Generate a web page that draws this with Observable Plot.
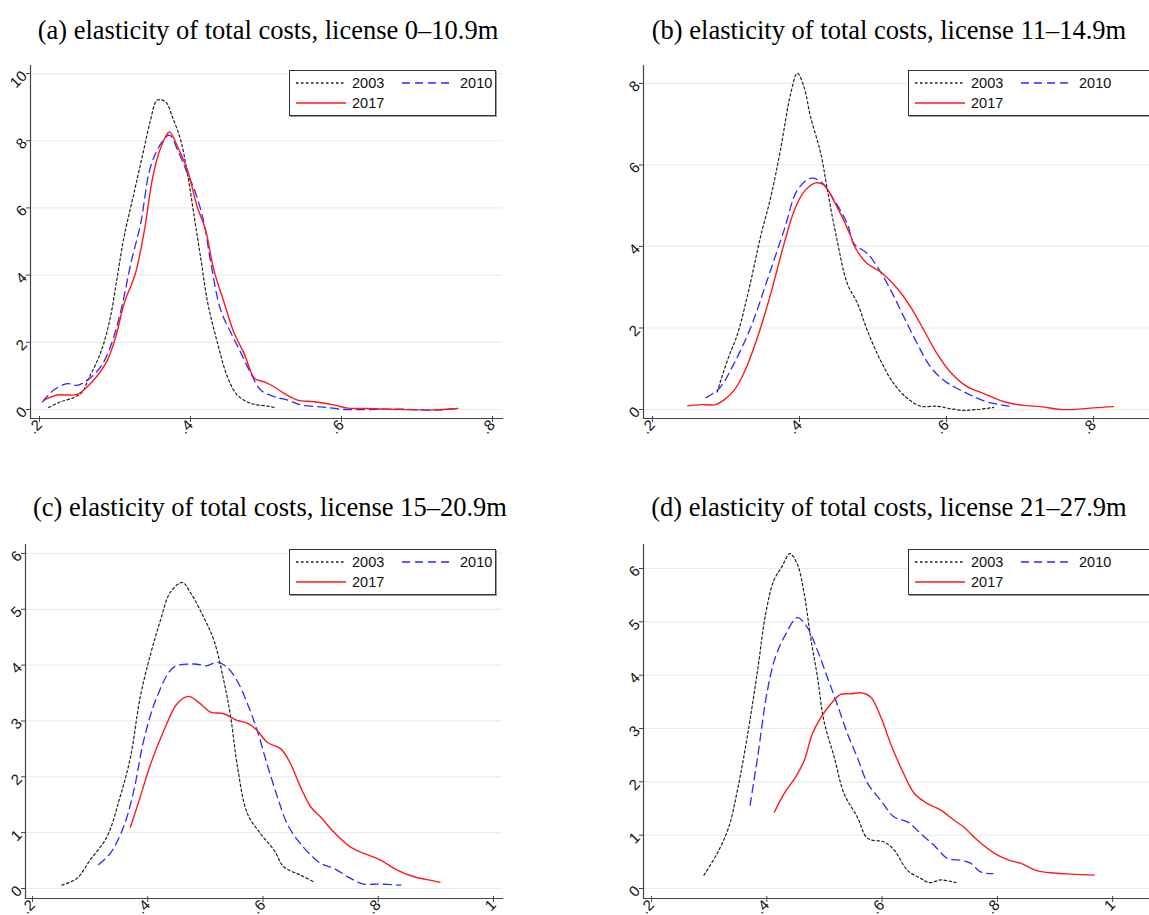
<!DOCTYPE html>
<html><head><meta charset="utf-8">
<script src="https://cdn.jsdelivr.net/npm/d3@7"></script>
<script src="https://cdn.jsdelivr.net/npm/@observablehq/plot@0.6"></script>
<style>
html,body{margin:0;padding:0;background:#fff;width:1149px;height:915px;overflow:hidden;position:relative}
.title{position:absolute;font-family:"Liberation Serif","Times New Roman",serif;font-size:26.5px;line-height:30px;color:#000;white-space:nowrap;transform:translateX(-50%)}
.panel{position:absolute}
.panel svg{max-width:none !important}
.panel svg g[aria-label*="tick label"]{font-size:15px}
.legend{position:absolute;border:1.5px solid #333;background:#fff;font-family:"Liberation Sans",Arial,sans-serif;font-size:14.5px;color:#111;box-shadow:1px 1px 0 #999}
.legend span{position:absolute;line-height:16px}
.legend svg{position:absolute}
</style></head><body>
<script>
// ---------- data ----------
const seriesNames = ["2003", "2010", "2017"];
const titles = [
  "(a) elasticity of total costs, license 0\u201310.9m",
  "(b) elasticity of total costs, license 11\u201314.9m",
  "(c) elasticity of total costs, license 15\u201320.9m",
  "(d) elasticity of total costs, license 21\u201327.9m"
];
const xTicksAB = [0.2, 0.4, 0.6, 0.8];
const xTicksCD = [0.2, 0.4, 0.6, 0.8, 1];
const yTicksA = [0, 2, 4, 6, 8, 10];
const yTicksB = [0, 2, 4, 6, 8];
const yTicksC = [0, 1, 2, 3, 4, 5, 6];
const yTicksD = [0, 1, 2, 3, 4, 5, 6];

const a2003 = [[0.212,0.06],[0.228,0.23],[0.246,0.36],[0.257,0.53],[0.265,0.92],[0.277,1.47],[0.285,1.96],[0.294,2.76],[0.303,3.95],[0.312,5.14],[0.325,6.43],[0.338,7.72],[0.347,8.61],[0.356,9.21],[0.367,9.16],[0.376,8.71],[0.387,8.02],[0.396,7.02],[0.405,5.73],[0.414,4.44],[0.423,3.15],[0.436,1.96],[0.449,0.97],[0.462,0.43],[0.480,0.18],[0.502,0.10],[0.511,0.06]];
const a2010 = [[0.204,0.23],[0.219,0.58],[0.237,0.77],[0.250,0.72],[0.263,0.87],[0.281,1.27],[0.294,1.87],[0.308,2.96],[0.321,4.35],[0.334,5.54],[0.347,7.22],[0.361,7.92],[0.372,8.17],[0.383,7.72],[0.396,7.02],[0.407,6.43],[0.418,5.54],[0.427,4.35],[0.440,2.96],[0.454,2.26],[0.467,1.67],[0.480,1.07],[0.493,0.58],[0.511,0.38],[0.529,0.28],[0.547,0.13],[0.573,0.08],[0.604,0.0],[0.635,0.0],[0.679,0.01],[0.724,-0.02],[0.754,0.03]];
const a2017 = [[0.206,0.28],[0.224,0.43],[0.237,0.43],[0.250,0.45],[0.263,0.67],[0.277,1.02],[0.290,1.47],[0.301,2.16],[0.312,3.15],[0.327,4.05],[0.339,5.34],[0.350,6.92],[0.361,7.82],[0.372,8.26],[0.383,7.82],[0.396,7.12],[0.409,6.03],[0.420,5.34],[0.431,4.15],[0.445,3.15],[0.458,2.26],[0.471,1.67],[0.485,0.92],[0.498,0.82],[0.511,0.67],[0.524,0.48],[0.542,0.28],[0.564,0.23],[0.591,0.13],[0.608,0.04],[0.635,0.03],[0.679,0.0],[0.724,-0.01],[0.754,0.03]];

const b2003 = [[0.288,0.43],[0.302,1.21],[0.316,1.87],[0.334,3.17],[0.347,4.24],[0.361,5.22],[0.374,6.36],[0.388,7.75],[0.397,8.25],[0.406,7.92],[0.415,7.18],[0.429,6.28],[0.438,5.38],[0.451,4.16],[0.465,3.09],[0.479,2.60],[0.492,1.95],[0.510,1.21],[0.528,0.64],[0.547,0.27],[0.565,0.08],[0.587,0.08],[0.605,0.02],[0.623,-0.02],[0.642,0.0],[0.664,0.05]];
const b2010 = [[0.273,0.29],[0.291,0.52],[0.311,1.13],[0.334,2.03],[0.356,3.17],[0.379,4.40],[0.397,5.38],[0.415,5.67],[0.429,5.59],[0.447,5.14],[0.465,4.56],[0.474,4.07],[0.492,3.83],[0.506,3.50],[0.524,2.93],[0.542,2.27],[0.560,1.62],[0.578,1.05],[0.596,0.72],[0.614,0.52],[0.633,0.35],[0.651,0.21],[0.669,0.13],[0.685,0.08]];
const b2017 = [[0.248,0.09],[0.266,0.12],[0.286,0.12],[0.297,0.23],[0.311,0.47],[0.325,0.92],[0.343,1.78],[0.361,2.85],[0.379,4.07],[0.393,4.89],[0.406,5.34],[0.422,5.56],[0.433,5.51],[0.451,4.97],[0.470,4.24],[0.474,4.03],[0.492,3.58],[0.510,3.38],[0.533,2.97],[0.551,2.52],[0.569,1.95],[0.587,1.37],[0.605,0.92],[0.628,0.56],[0.651,0.39],[0.678,0.19],[0.705,0.10],[0.728,0.07],[0.755,0.0],[0.773,0.0],[0.800,0.04],[0.827,0.07]];

const c2003 = [[0.251,0.06],[0.277,0.18],[0.300,0.51],[0.329,0.92],[0.352,1.64],[0.370,2.35],[0.387,3.43],[0.405,4.20],[0.422,4.80],[0.439,5.30],[0.460,5.48],[0.474,5.30],[0.497,4.86],[0.515,4.44],[0.532,3.72],[0.544,3.07],[0.555,2.23],[0.573,1.34],[0.596,0.98],[0.619,0.69],[0.636,0.39],[0.665,0.24],[0.688,0.12]];
const c2010 = [[0.315,0.43],[0.335,0.63],[0.358,1.10],[0.376,1.76],[0.393,2.65],[0.416,3.43],[0.445,3.96],[0.480,4.02],[0.503,3.99],[0.520,4.05],[0.538,3.96],[0.555,3.72],[0.573,3.31],[0.590,2.83],[0.607,2.23],[0.625,1.64],[0.642,1.16],[0.665,0.80],[0.700,0.45],[0.723,0.36],[0.752,0.18],[0.775,0.08],[0.799,0.08],[0.839,0.06]];
const c2017 = [[0.370,1.10],[0.387,1.64],[0.405,2.23],[0.428,2.83],[0.451,3.31],[0.471,3.44],[0.491,3.31],[0.509,3.16],[0.532,3.13],[0.555,3.01],[0.573,2.96],[0.590,2.83],[0.607,2.62],[0.631,2.50],[0.648,2.23],[0.665,1.82],[0.683,1.46],[0.700,1.28],[0.723,1.01],[0.752,0.74],[0.775,0.63],[0.804,0.51],[0.833,0.33],[0.862,0.21],[0.885,0.16],[0.907,0.11]];

const d2003 = [[0.291,0.25],[0.314,0.66],[0.334,1.15],[0.349,1.84],[0.366,2.84],[0.384,4.09],[0.398,5.15],[0.412,5.77],[0.427,6.05],[0.440,6.28],[0.453,6.08],[0.465,5.52],[0.476,4.71],[0.488,3.96],[0.499,3.15],[0.517,2.46],[0.534,1.78],[0.557,1.34],[0.575,0.94],[0.604,0.87],[0.621,0.72],[0.644,0.34],[0.667,0.19],[0.682,0.11],[0.702,0.16],[0.728,0.11]];
const d2010 = [[0.371,1.56],[0.384,2.46],[0.401,3.71],[0.415,4.34],[0.433,4.77],[0.453,5.08],[0.470,4.90],[0.488,4.46],[0.505,3.96],[0.522,3.46],[0.540,2.90],[0.557,2.46],[0.575,1.97],[0.598,1.65],[0.621,1.34],[0.644,1.25],[0.667,1.03],[0.690,0.81],[0.714,0.56],[0.737,0.53],[0.754,0.47],[0.771,0.31],[0.792,0.28]];
const d2017 = [[0.413,1.43],[0.430,1.78],[0.450,2.09],[0.465,2.40],[0.479,2.90],[0.494,3.21],[0.511,3.46],[0.528,3.64],[0.546,3.65],[0.563,3.67],[0.580,3.59],[0.598,3.21],[0.615,2.71],[0.635,2.21],[0.656,1.78],[0.679,1.59],[0.702,1.47],[0.725,1.28],[0.742,1.15],[0.766,0.90],[0.795,0.66],[0.818,0.54],[0.841,0.47],[0.870,0.33],[0.899,0.29],[0.928,0.27],[0.968,0.25]];

// ---------- styles ----------
const styles = [
  {stroke: "#222", strokeWidth: 1.2, strokeDasharray: "2.5,2.5"},
  {stroke: "#2b2bff", strokeWidth: 1.3, strokeDasharray: "8,5"},
  {stroke: "#ff1a1a", strokeWidth: 1.4, strokeDasharray: null}
];
const fmtX = d => d === 1 ? "1" : d3.format(".1f")(d).replace(/^0/, "");
const fmtY = d => String(d);

function addTitle(text, cx, top) {
  const t = document.createElement("div");
  t.className = "title";
  t.style.left = cx + "px";
  t.style.top = top + "px";
  t.textContent = text;
  document.body.appendChild(t);
}

function addLegend(left, top, width) {
  const lg = document.createElement("div");
  lg.className = "legend";
  lg.style.left = left + "px";
  lg.style.top = top + "px";
  lg.style.width = width + "px";
  lg.style.height = "44px";
  const items = [[0, 6, 12, 62], [1, 112, 12, 170], [2, 6, 32, 62]];
  for (const [i, lx, ly, tx] of items) {
    const s = styles[i];
    const svg = d3.create("svg").attr("width", 50).attr("height", 6)
      .style("left", lx + "px").style("top", (ly - 3) + "px");
    svg.append("line").attr("x1", 0).attr("x2", 50).attr("y1", 3).attr("y2", 3)
      .attr("stroke", s.stroke).attr("stroke-width", s.strokeWidth + 0.3)
      .attr("stroke-dasharray", s.strokeDasharray);
    lg.appendChild(svg.node());
    const sp = document.createElement("span");
    sp.style.left = tx + "px";
    sp.style.top = (ly - 8) + "px";
    sp.textContent = seriesNames[i];
    lg.appendChild(sp);
  }
  document.body.appendChild(lg);
}

function panel(o) {
  const chart = Plot.plot({
    width: o.width, height: o.height,
    marginLeft: o.mL, marginRight: o.mR, marginTop: o.mT, marginBottom: o.mB,
    style: {fontFamily: '"Liberation Sans", Arial, sans-serif', fontSize: "15px", color: "#333", background: "transparent", overflow: "visible", maxWidth: "none"},
    x: {domain: o.xDom, label: null},
    y: {domain: o.yDom, label: null},
    marks: [
      Plot.gridY(o.yTicks, {stroke: "#e4eef0", strokeOpacity: 1, strokeWidth: 1.2}),
      Plot.axisX(o.xTicks, {tickFormat: fmtX, tickRotate: -45, tickSize: 6, tickPadding: 0, dy: -2, stroke: "#444", fill: "#111", fontSize: 15}),
      Plot.axisY(o.yTicks, {tickFormat: fmtY, tickRotate: -45, tickSize: 4, tickPadding: 2, stroke: "#444", fill: "#111", fontSize: 15}),
      Plot.frame({anchor: "left", stroke: "#444", strokeWidth: 1.2}),
      Plot.frame({anchor: "bottom", stroke: "#444", strokeWidth: 1.2}),
      ...o.series.map((s, i) => Plot.line(s, {x: d => d[0], y: d => d[1], curve: "catmull-rom", ...styles[i]}))
    ]
  });
  chart.style.maxWidth = "none";
  const wrap = document.createElement("div");
  wrap.className = "panel";
  wrap.style.left = o.left + "px";
  wrap.style.top = o.top + "px";
  wrap.style.width = o.width + "px";
  wrap.appendChild(chart);
  document.body.appendChild(wrap);
}

// panel (a)
panel({left: 0, top: 50, width: 520, height: 400, mL: 30, mR: 18, mT: 15, mB: 32,
  xDom: [0.1881, 0.8132], yDom: [-0.268, 10.24], xTicks: xTicksAB, yTicks: yTicksA, series: [a2003, a2010, a2017]});
// panel (b)
panel({left: 613, top: 50, width: 560, height: 400, mL: 30, mR: 13, mT: 15, mB: 32,
  xDom: [0.1878, 0.891], yDom: [-0.221, 8.44], xTicks: xTicksAB, yTicks: yTicksB, series: [b2003, b2010, b2017]});
// panel (c)
panel({left: 0, top: 529, width: 520, height: 400, mL: 25, mR: 18, mT: 15, mB: 31,
  xDom: [0.1879, 1.0156], yDom: [-0.179, 6.16], xTicks: xTicksCD, yTicks: yTicksC, series: [c2003, c2010, c2017]});
// panel (d)
panel({left: 613, top: 529, width: 560, height: 400, mL: 30, mR: 13, mT: 15, mB: 31,
  xDom: [0.1861, 1.083], yDom: [-0.1875, 6.45], xTicks: xTicksCD, yTicks: yTicksD, series: [d2003, d2010, d2017]});

addTitle(titles[0], 268, 15);
addTitle(titles[1], 889, 15);
addTitle(titles[2], 270, 492);
addTitle(titles[3], 889, 492);

addLegend(289, 70, 205);
addLegend(908, 70, 260);
addLegend(289, 549, 205);
addLegend(908, 549, 260);
</script>
</body></html>
